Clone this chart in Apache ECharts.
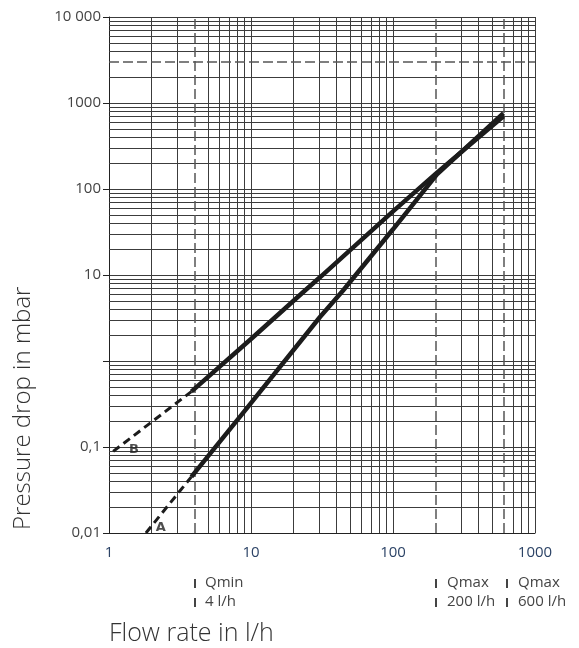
<!DOCTYPE html>
<html>
<head>
<meta charset="utf-8">
<script src="https://cdn.jsdelivr.net/npm/echarts@6/dist/echarts.min.js"></script>
<style>html,body{margin:0;padding:0;background:#fff}#c{width:579px;height:648px}</style>
</head>
<body>
<div id="c"></div>
<script>
// ---- data ----
const xTickValues = [1, 10, 100, 1000];
const xTickText = ['1', '10', '100', '1000'];
const yTickValues = [0.01, 0.1, 1, 10, 100, 1000, 10000];
const yTickText = ['0,01', '0,1', '', '10', '100', '1000', '10 000'];

const curveA_dashed = [[1.82, 0.01], [3.8, 0.045]];
const curveA = [[3.8, 0.045], [9.3, 0.28], [30.6, 3.25], [44.5, 6.6], [100, 34], [204, 148], [600, 760]];
const curveB_dashed = [[1.07, 0.089], [3.8, 0.44]];
const curveB = [[3.8, 0.44], [10, 1.8], [24, 6.6], [30.6, 9.4], [100, 55], [204, 155], [600, 700]];

const curveLabels = [{ name: 'A', value: [2.32, 0.0117] }, { name: 'B', value: [1.5, 0.092] }];

const dashedX = [4, 200, 600];
const dashedY = [3000];
const minorMultipliers = [2, 3, 4, 5, 6, 7, 8, 9];

// ---- minor grid lines ----
const minorX = [];
[1, 10, 100].forEach(d => minorMultipliers.forEach(m => {
  const v = d * m;
  if (!dashedX.includes(v)) minorX.push({ xAxis: v });
}));
const minorY = [];
[0.01, 0.1, 1, 10, 100, 1000].forEach(d => minorMultipliers.forEach(m => {
  const v = +(d * m).toPrecision(6);
  if (!dashedY.includes(v)) minorY.push({ yAxis: v });
}));
const dashedLines = dashedX.map(v => ({ xAxis: v })).concat(dashedY.map(v => ({ yAxis: v })));

const gridColor = '#3c3c3c';
const curveColor = '#1c1c1c';
const font = '"Open Sans", Lato, sans-serif';
const annFont = '15px ' + font;

const chart = echarts.init(document.getElementById('c'), null, { renderer: 'canvas' });
chart.setOption({
  backgroundColor: '#fff',
  animation: false,
  grid: { left: 109, right: 44, top: 17, bottom: 115, containLabel: false },
  xAxis: {
    type: 'log', logBase: 10, min: 1, max: 1000,
    axisLine: { show: true, lineStyle: { color: '#222', width: 1 } },
    axisTick: { show: false },
    axisLabel: {
      color: '#2c4366', fontSize: 15, fontFamily: font, margin: 12,
      formatter: v => { const i = xTickValues.findIndex(t => Math.abs(Math.log10(t) - Math.log10(v)) < 1e-6); return i >= 0 ? xTickText[i] : ''; }
    },
    splitLine: { show: true, lineStyle: { color: gridColor, width: 1 } }
  },
  yAxis: {
    type: 'log', logBase: 10, min: 0.01, max: 10000,
    axisLine: { show: true, lineStyle: { color: '#222', width: 1 } },
    axisTick: { show: true, length: 6, lineStyle: { color: '#222' } },
    axisLabel: {
      color: '#444', fontSize: 15, fontFamily: font, margin: 8,
      formatter: v => { const i = yTickValues.findIndex(t => Math.abs(Math.log10(t) - Math.log10(v)) < 1e-6); return i >= 0 ? yTickText[i] : ''; }
    },
    splitLine: { show: true, lineStyle: { color: gridColor, width: 1 } }
  },
  graphic: [
    { type: 'text', rotation: Math.PI / 2, x: 11, y: 530,
      style: { text: 'Pressure drop in mbar', fill: '#333', font: '300 24px ' + font } },
    { type: 'text', x: 109, y: 621, style: { text: 'Flow rate in l/h', fill: '#333', font: '300 25px ' + font } },
    { type: 'rect', shape: { x: 194, y: 579, width: 2, height: 9 }, style: { fill: '#444' } },
    { type: 'rect', shape: { x: 194, y: 598, width: 2, height: 9 }, style: { fill: '#444' } },
    { type: 'text', x: 205, y: 575, style: { text: 'Qmin', fill: '#444', font: annFont } },
    { type: 'text', x: 205, y: 594, style: { text: '4 l/h', fill: '#444', font: annFont } },
    { type: 'rect', shape: { x: 435, y: 579, width: 2, height: 9 }, style: { fill: '#444' } },
    { type: 'rect', shape: { x: 435, y: 598, width: 2, height: 9 }, style: { fill: '#444' } },
    { type: 'text', x: 447, y: 575, style: { text: 'Qmax', fill: '#444', font: annFont } },
    { type: 'text', x: 447, y: 594, style: { text: '200 l/h', fill: '#444', font: annFont } },
    { type: 'rect', shape: { x: 506, y: 579, width: 2, height: 9 }, style: { fill: '#444' } },
    { type: 'rect', shape: { x: 506, y: 598, width: 2, height: 9 }, style: { fill: '#444' } },
    { type: 'text', x: 518, y: 575, style: { text: 'Qmax', fill: '#444', font: annFont } },
    { type: 'text', x: 518, y: 594, style: { text: '600 l/h', fill: '#444', font: annFont } }
  ],
  series: [
    {
      type: 'line', data: [], z: 1, silent: true, symbol: 'none',
      markLine: {
        silent: true, symbol: ['none', 'none'], label: { show: false }, animation: false,
        lineStyle: { color: gridColor, width: 1, type: 'solid' },
        data: minorX.concat(minorY)
      }
    },
    {
      type: 'line', data: [], z: 2, silent: true, symbol: 'none',
      markLine: {
        silent: true, symbol: ['none', 'none'], label: { show: false }, animation: false,
        lineStyle: { color: '#555', width: 1.5, type: [10, 4] },
        data: dashedLines
      }
    },
    { name: 'A dashed', type: 'line', data: curveA_dashed, symbol: 'none', z: 5,
      lineStyle: { color: curveColor, width: 3, type: [8, 5] } },
    { name: 'A', type: 'line', data: curveA, symbol: 'none', z: 5,
      lineStyle: { color: curveColor, width: 4.5 } },
    { name: 'B dashed', type: 'line', data: curveB_dashed, symbol: 'none', z: 5,
      lineStyle: { color: curveColor, width: 3, type: [8, 5] } },
    { name: 'B', type: 'line', data: curveB, symbol: 'none', z: 5,
      lineStyle: { color: curveColor, width: 4.5 } },
    { type: 'scatter', data: curveLabels, symbolSize: 0, z: 6,
      label: { show: true, position: 'inside', formatter: p => p.name, color: '#222', fontWeight: 'bold', fontSize: 13, fontFamily: 'DejaVu Sans, sans-serif' } }
  ]
});
</script>
</body>
</html>
